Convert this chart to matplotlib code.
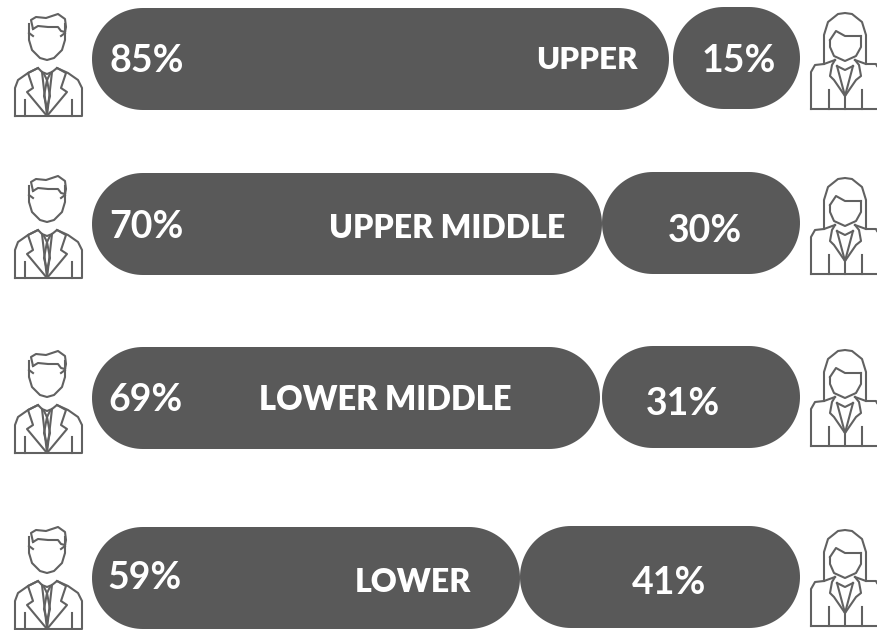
import numpy as np
import matplotlib
matplotlib.use("Agg")
import matplotlib.pyplot as plt
from matplotlib.patches import Polygon

# picture values
groups = ["UPPER", "UPPER MIDDLE", "LOWER MIDDLE", "LOWER"]
men_pct = [85, 70, 69, 59]
women_pct = [15, 30, 31, 41]
men_bar_end = [669, 602, 600, 520]
women_bar_start = [673, 602, 602, 520]

BAR_LEFT = 92
BAR_RIGHT = 800
BAR_TOPS = [8, 173, 347, 527]
BAR_H = 102
GREY = "#595959"
ICON = "#616161"
FONT = "Lato"

# label centres per row
group_x = [587, 447, 385, 413]
men_x = [147, 146, 145, 145]
women_x = [739, 705, 683, 669]
women_y = [61, 231, 404, 583]
men_y = [61, 227, 400, 578]
group_y = [60, 228, 400, 583]
group_size = [22.5, 23, 23.5, 23]
man_dy = [0, 162, 337, 513]
woman_dy = [0, 165, 337, 517]

man_lines = [
    # hair
    [(33, 29), (31, 20), (36, 17), (46, 18), (58, 14), (65, 19), (66, 27), (65, 32)],
    [(33, 29), (38, 26), (48, 27), (58, 27), (61, 31), (65, 32)],
    # head
    [(29, 24), (29, 40), (32, 50), (40, 58), (47, 60), (54, 58), (62, 50), (65, 40), (65, 24)],
    [(29, 33), (33, 36)], [(65, 33), (61, 36)],
    # body
    [(15, 116), (15, 88), (18, 80), (28, 73), (38, 68), (42, 72), (47, 74), (52, 72), (57, 68), (68, 73), (78, 80), (82, 88), (82, 116), (15, 116)],
    # lapels
    [(38, 68), (28, 73), (33, 88), (27, 92), (47, 116), (67, 92), (61, 88), (66, 73), (57, 68)],
    # shirt and tie
    [(42, 72), (47, 116), (52, 72)],
    [(44, 74), (47, 80), (50, 74)],
    [(47, 80), (44, 96), (47, 108), (50, 96), (47, 80)],
    # sleeves
    [(25, 116), (25, 100)], [(72, 116), (72, 100)],
]

woman_lines = [
    # hair
    [(824, 64), (824, 35), (828, 22), (838, 14), (845, 13), (852, 14), (862, 22), (866, 35), (866, 64)],
    # face
    [(830, 40), (830, 47), (834, 56), (845, 61), (856, 56), (861, 47), (861, 36)],
    [(830, 40), (836, 31), (845, 36), (855, 36), (861, 36)],
    # body
    [(811, 109), (811, 72), (815, 65), (824, 64), (835, 60)],
    [(855, 60), (866, 64), (876, 64), (877, 66)],
    [(811, 109), (877, 109)],
    # lapels
    [(835, 60), (832, 65), (830, 76), (834, 80), (845, 96), (856, 80), (861, 76), (859, 65), (855, 60)],
    [(837, 66), (845, 96), (853, 66)],
    [(837, 66), (845, 70), (853, 66)],
    # sleeves and centre
    [(829, 109), (829, 90)], [(845, 109), (845, 96)], [(862, 109), (862, 90)],
]


def pill(ax, left, right, top, height):
    r = height / 2
    cy = top + r
    t = np.linspace(-np.pi / 2, np.pi / 2, 60)
    xs = np.r_[right - r + r * np.cos(t), left + r - r * np.cos(t[::-1] * -1)]
    ys = np.r_[cy + r * np.sin(t), cy - r * np.sin(t)]
    ax.add_patch(Polygon(np.c_[xs, ys], closed=True, fc=GREY, ec="none"))


def draw_icon(ax, lines, dy):
    for seg in lines:
        xs = [p[0] for p in seg]
        ys = [p[1] + dy for p in seg]
        ax.plot(xs, ys, color=ICON, lw=1.5, solid_joinstyle="round", clip_on=True)


fig = plt.figure(figsize=(8.77, 6.30), dpi=100)
ax = fig.add_axes([0, 0, 1, 1])
ax.set_xlim(0, 877)
ax.set_ylim(630, 0)
ax.axis("off")

for i, name in enumerate(groups):
    top = BAR_TOPS[i]
    pill(ax, BAR_LEFT, men_bar_end[i], top, BAR_H)
    pill(ax, women_bar_start[i], BAR_RIGHT, top - 1, BAR_H)
    draw_icon(ax, man_lines, man_dy[i])
    draw_icon(ax, woman_lines, woman_dy[i])
    ax.text(men_x[i], men_y[i], f"{men_pct[i]}%", color="white", fontsize=27,
            fontweight="bold", family=FONT, ha="center", va="center")
    ax.text(women_x[i], women_y[i], f"{women_pct[i]}%", color="white", fontsize=27,
            fontweight="bold", family=FONT, ha="center", va="center")
    ax.text(group_x[i], group_y[i], name, color="white", fontsize=group_size[i],
            fontweight="heavy", family=FONT, ha="center", va="center")

fig.savefig("out.png", dpi=100)
